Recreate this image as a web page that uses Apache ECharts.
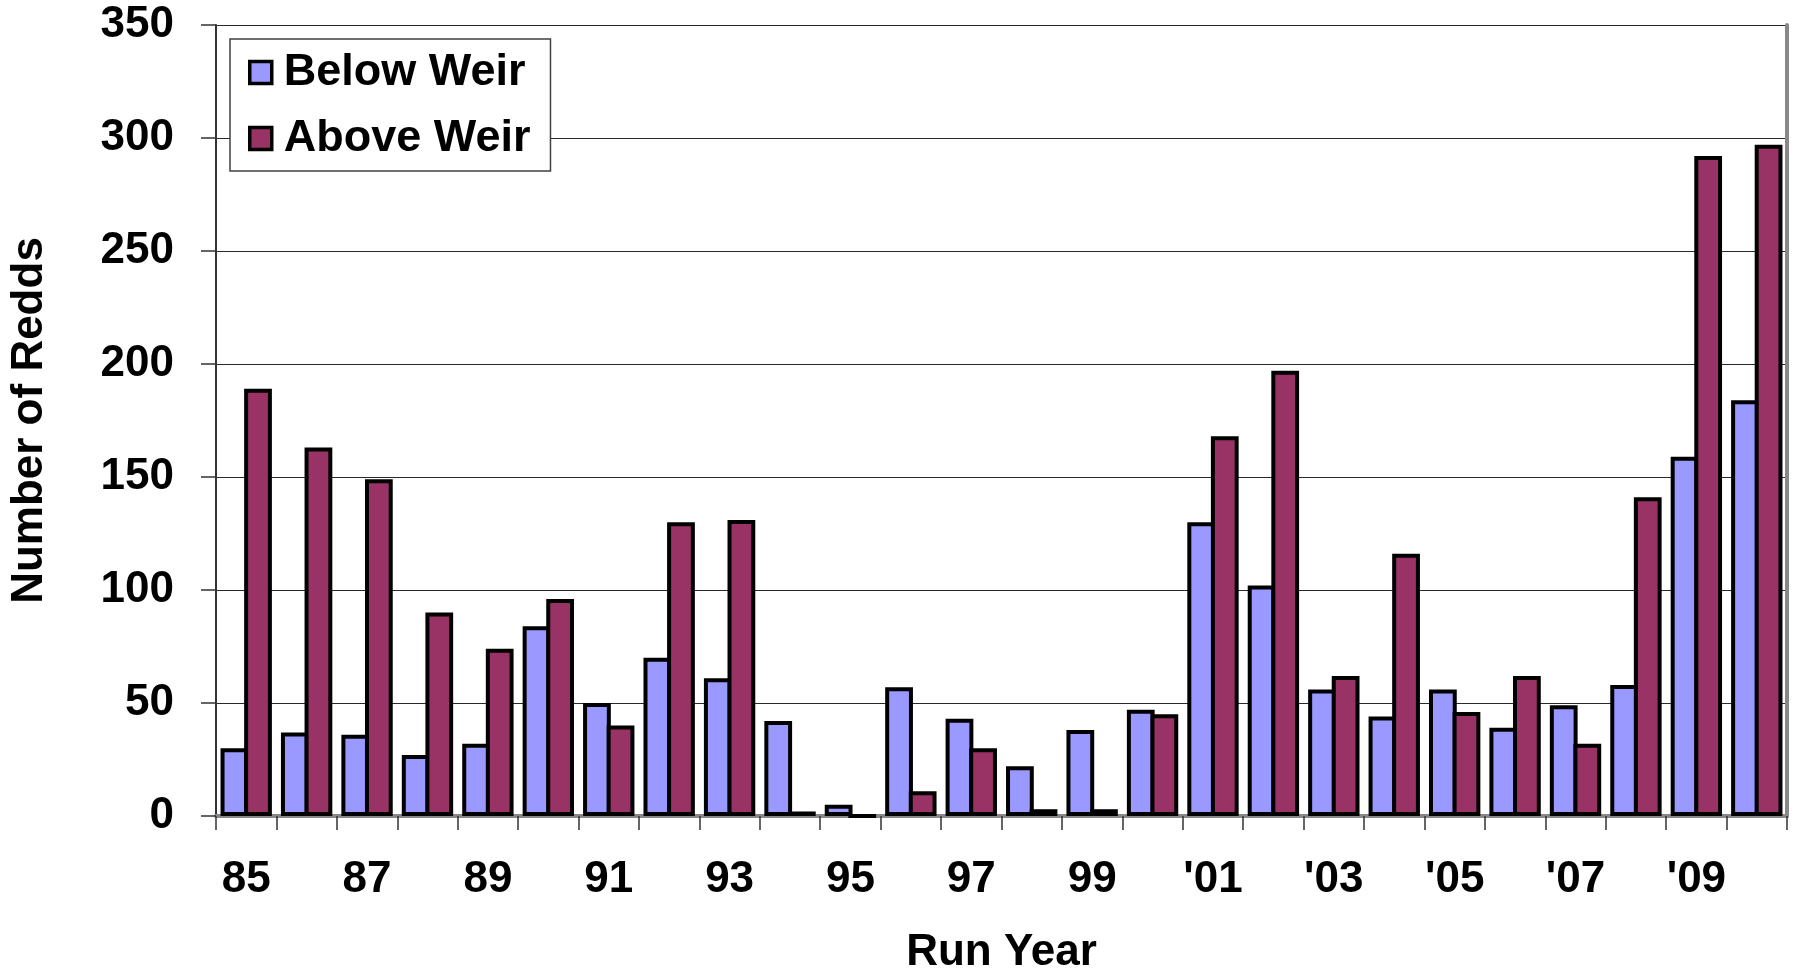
<!DOCTYPE html>
<html>
<head>
<meta charset="utf-8">
<title>Number of Redds by Run Year</title>
<script src="https://cdn.jsdelivr.net/npm/echarts@6/dist/echarts.min.js"></script>
<style>
  html, body { margin: 0; padding: 0; background: #ffffff; }
  #chart { width: 1796px; height: 980px; }
</style>
</head>
<body>
<div id="chart"></div>
<script>
// Run years (two-digit labels; every other one is printed on the axis)
const years = ['85', '86', '87', '88', '89', '90', '91', '92', '93', '94', '95', '96', '97', '98', '99',
  '00', "'01", "'02", "'03", "'04", "'05", "'06", "'07", "'08", "'09", "'10"];

// Redd counts per run year
const belowWeir = [30, 37, 36, 27, 32, 84, 50, 70, 61, 42, 5, 57, 43, 22, 38,
  47, 130, 102, 56, 44, 56, 39, 49, 58, 159, 184];
const aboveWeir = [189, 163, 149, 90, 74, 96, 40, 130, 131, 2, 0, 11, 30, 3, 3,
  45, 168, 197, 62, 116, 46, 62, 32, 141, 292, 297];

// Value axis ticks
const yTicks = [0, 50, 100, 150, 200, 250, 300, 350];

const FONT = '"Liberation Sans", Arial, sans-serif';
const textBold = { fontFamily: FONT, fontWeight: 'bold', fontSize: 44, color: '#000' };

const chart = echarts.init(document.getElementById('chart'), null, { renderer: 'canvas' });

chart.setOption({
  backgroundColor: '#ffffff',
  animation: false,
  grid: { left: 197, right: 9, top: 25, bottom: 157, containLabel: false },
  legend: {
    orient: 'vertical',
    left: 230,
    top: 39,
    padding: [11, 20, 10, 18],
    itemGap: 21,
    itemWidth: 22,
    itemHeight: 22,
    backgroundColor: '#ffffff',
    borderColor: '#404040',
    borderWidth: 1.5,
    borderRadius: 0,
    icon: 'rect',
    textStyle: Object.assign({}, textBold, { fontSize: 45, lineHeight: 44, padding: [0, 0, 0, 7] }),
    itemStyle: { borderColor: '#000', borderWidth: 3.5 },
    data: ['Below Weir', 'Above Weir']
  },
  xAxis: [
    {
      type: 'category',
      data: years,
      boundaryGap: true,
      name: 'Run Year',
      nameLocation: 'middle',
      nameGap: 115,
      nameTextStyle: textBold,
      axisLine: { show: true, lineStyle: { color: '#111', width: 2 } },
      axisTick: { show: true, interval: 0, length: 14, lineStyle: { color: '#333', width: 1.5 } },
      axisLabel: Object.assign({}, textBold, { interval: 1, margin: 42 }),
      splitLine: { show: false }
    },
    {
      // top frame edge of the plot area
      type: 'category',
      data: years,
      position: 'top',
      axisLine: { show: true, lineStyle: { color: '#888888', width: 4 } },
      axisTick: { show: false },
      axisLabel: { show: false },
      splitLine: { show: false }
    }
  ],
  yAxis: [
    {
      type: 'value',
      min: yTicks[0],
      max: yTicks[yTicks.length - 1],
      interval: yTicks[1] - yTicks[0],
      name: 'Number of Redds',
      nameLocation: 'middle',
      nameGap: 164,
      nameRotate: 90,
      nameTextStyle: textBold,
      axisLine: { show: true, lineStyle: { color: '#333', width: 2 } },
      axisTick: { show: true, length: 15, lineStyle: { color: '#333', width: 1.5 } },
      axisLabel: Object.assign({}, textBold, { margin: 42 }),
      splitLine: { show: true, lineStyle: { color: '#2a2a2a', width: 1.2 } }
    },
    {
      // right frame edge of the plot area
      type: 'value',
      position: 'right',
      min: yTicks[0],
      max: yTicks[yTicks.length - 1],
      interval: yTicks[1] - yTicks[0],
      axisLine: { show: true, lineStyle: { color: '#888888', width: 4 } },
      axisTick: { show: false },
      axisLabel: { show: false },
      splitLine: { show: false }
    }
  ],
  series: [
    {
      name: 'Below Weir',
      type: 'bar',
      data: belowWeir,
      // adjacent bars share one outline: overlap by the border width
      barGap: '-15%',
      barCategoryGap: '15%',
      itemStyle: { color: '#9999FF', borderColor: '#000', borderWidth: 4 }
    },
    {
      name: 'Above Weir',
      type: 'bar',
      data: aboveWeir,
      barGap: '-15%',
      barCategoryGap: '15%',
      itemStyle: { color: '#993366', borderColor: '#000', borderWidth: 4 }
    }
  ]
});
</script>
</body>
</html>
